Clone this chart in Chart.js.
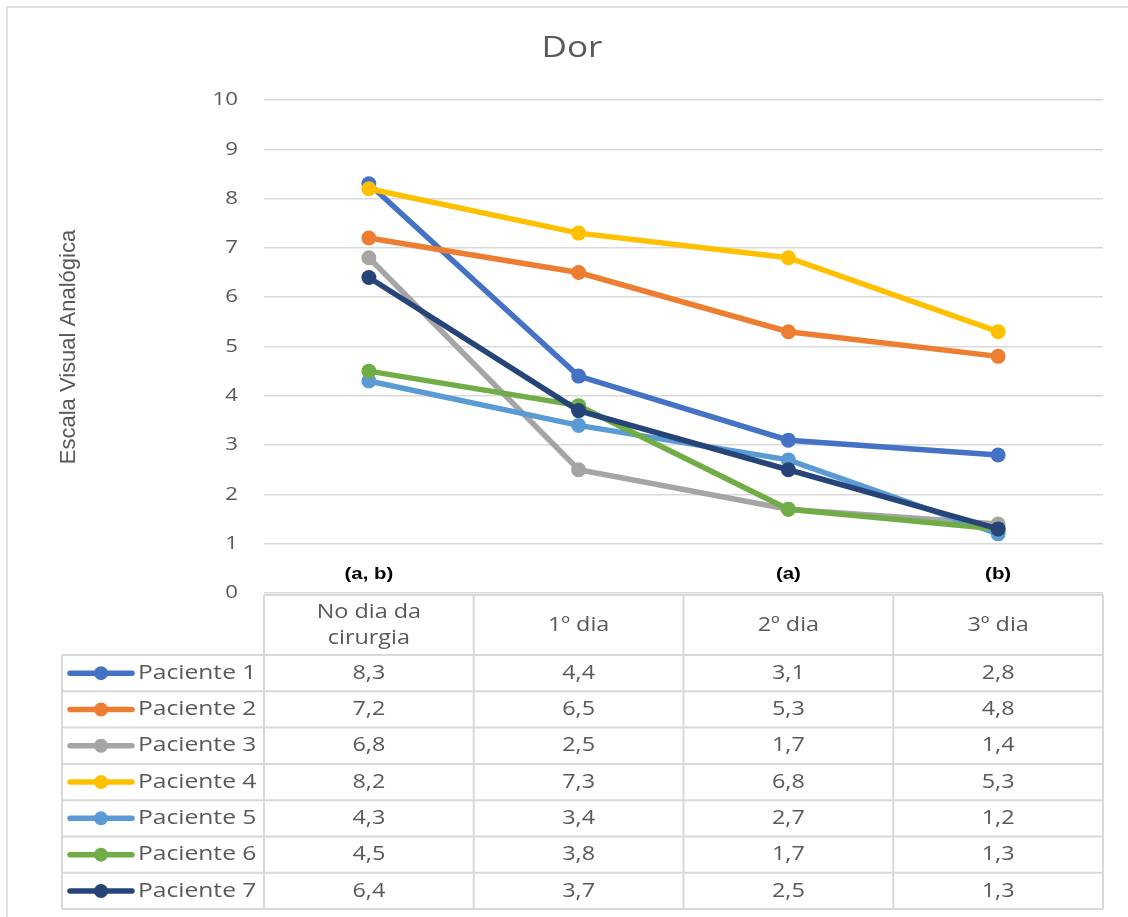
<!DOCTYPE html>
<html>
<head>
<meta charset="utf-8">
<script src="https://cdn.jsdelivr.net/npm/chart.js@4.4.0/dist/chart.umd.min.js"></script>
<style>
  html, body { margin: 0; padding: 0; background: #ffffff; }
  canvas { display: block; }
</style>
</head>
<body>
<canvas id="painChart" width="1128" height="917"></canvas>
<script>
// Days after surgery (x categories); a nested array is a two-line label
const categories = [['No dia da', 'cirurgia'], '1º dia', '2º dia', '3º dia'];

// Visual analogue pain score per patient
const seriesNames = ['Paciente 1', 'Paciente 2', 'Paciente 3', 'Paciente 4', 'Paciente 5', 'Paciente 6', 'Paciente 7'];
const paciente1 = [8.3, 4.4, 3.1, 2.8];
const paciente2 = [7.2, 6.5, 5.3, 4.8];
const paciente3 = [6.8, 2.5, 1.7, 1.4];
const paciente4 = [8.2, 7.3, 6.8, 5.3];
const paciente5 = [4.3, 3.4, 2.7, 1.2];
const paciente6 = [4.5, 3.8, 1.7, 1.3];
const paciente7 = [6.4, 3.7, 2.5, 1.3];
const seriesValues = [paciente1, paciente2, paciente3, paciente4, paciente5, paciente6, paciente7];

// Significance marks written above each day column
const significance = ['(a, b)', '', '(a)', '(b)'];

// Y axis range
const yMin = 0;
const yMax = 10;
const yStep = 1;

const chartTitle = 'Dor';
const yTitle = 'Escala Visual Analógica';

const colors = ['#4472C4', '#ED7D31', '#A5A5A5', '#FFC000', '#5B9BD5', '#70AD47', '#264478'];
const textGray = '#595959';
const lineGray = '#d9d9d9';
const bodyFont = '"Open Sans", "Noto Sans", sans-serif';
const widen = 1.17; // horizontal text stretch

const fmt = v => v.toFixed(1).replace('.', ',');

function wideText(ctx, text, x, y, align, sx) {
  ctx.save();
  ctx.translate(x, y);
  ctx.scale(sx, 1);
  ctx.textAlign = align;
  ctx.fillText(text, 0, 0);
  ctx.restore();
}

// Title, axis labels, significance marks and the data table under the plot
const decorations = {
  id: 'decorations',
  afterDraw(chart) {
    const { ctx, chartArea: ca, scales: { x, y } } = chart;
    ctx.save();

    // outer frame
    ctx.strokeStyle = lineGray;
    ctx.lineWidth = 1.5;
    ctx.strokeRect(7, 7, 1140, 940);

    ctx.textBaseline = 'middle';

    // chart title
    ctx.fillStyle = textGray;
    ctx.font = '30px ' + bodyFont;
    wideText(ctx, chartTitle, 572, 48, 'center', widen);

    // y tick labels
    ctx.font = '18.5px ' + bodyFont;
    y.ticks.forEach(t => {
      wideText(ctx, String(t.value), ca.left - 26, y.getPixelForValue(t.value), 'right', 1.2);
    });

    // y axis title
    ctx.save();
    ctx.translate(69, 347);
    ctx.rotate(-Math.PI / 2);
    ctx.font = '22px "Liberation Sans Narrow", "Liberation Sans", sans-serif';
    ctx.textAlign = 'center';
    ctx.fillText(yTitle, 0, 0);
    ctx.restore();

    const colW = ca.width / categories.length;
    const centers = categories.map((_, i) => x.getPixelForValue(i));

    // significance marks
    ctx.fillStyle = '#000000';
    ctx.font = 'bold 17px "Liberation Sans", Arial, sans-serif';
    significance.forEach((s, i) => {
      if (s) wideText(ctx, s, centers[i], ca.bottom - 19, 'center', 1.2);
    });

    // data table
    const top = ca.bottom + 2;
    const headerH = 60;
    const rowH = 36.3;
    const legendLeft = 62;
    const bottom = top + headerH + rowH * seriesNames.length;

    ctx.strokeStyle = lineGray;
    ctx.lineWidth = 2;
    ctx.beginPath();
    ctx.moveTo(ca.left, top); ctx.lineTo(ca.right, top);
    for (let r = 0; r <= seriesNames.length; r++) {
      const yy = top + headerH + r * rowH;
      ctx.moveTo(legendLeft, yy); ctx.lineTo(ca.right, yy);
    }
    for (let c = 0; c <= categories.length; c++) {
      const xx = ca.left + c * colW;
      ctx.moveTo(xx, top); ctx.lineTo(xx, bottom);
    }
    ctx.moveTo(legendLeft, top + headerH); ctx.lineTo(legendLeft, bottom);
    ctx.stroke();

    // header labels
    ctx.fillStyle = textGray;
    ctx.font = '20px ' + bodyFont;
    categories.forEach((cat, i) => {
      const lines = Array.isArray(cat) ? cat : [cat];
      const lh = 26;
      const y0 = top + headerH / 2 - (lines.length - 1) * lh / 2;
      lines.forEach((ln, k) => wideText(ctx, ln, centers[i], y0 + k * lh, 'center', widen));
    });

    // rows: legend key + values
    seriesNames.forEach((name, r) => {
      const cy = top + headerH + r * rowH + rowH / 2;
      ctx.strokeStyle = colors[r];
      ctx.lineWidth = 5.5;
      ctx.lineCap = 'round';
      ctx.beginPath();
      ctx.moveTo(legendLeft + 8, cy); ctx.lineTo(legendLeft + 70, cy);
      ctx.stroke();
      ctx.fillStyle = colors[r];
      ctx.beginPath();
      ctx.arc(legendLeft + 39, cy, 7, 0, Math.PI * 2);
      ctx.fill();

      ctx.fillStyle = textGray;
      wideText(ctx, name, legendLeft + 76, cy, 'left', 1.23);
      seriesValues[r].forEach((v, i) => wideText(ctx, fmt(v), centers[i], cy, 'center', widen));
    });

    ctx.restore();
  }
};

new Chart(document.getElementById('painChart'), {
  type: 'line',
  data: {
    labels: categories,
    datasets: seriesNames.map((name, i) => ({
      label: name,
      data: seriesValues[i],
      borderColor: colors[i],
      backgroundColor: colors[i],
      pointBackgroundColor: colors[i],
      pointBorderColor: colors[i],
      borderWidth: 5.5,
      pointRadius: 7.5,
      pointBorderWidth: 0,
      tension: 0,
      fill: false,
      order: seriesNames.length - i
    }))
  },
  options: {
    responsive: false,
    animation: false,
    devicePixelRatio: 1,
    layout: { padding: { left: 0, top: 100, right: 25, bottom: 324 } },
    plugins: {
      legend: { display: false },
      title: { display: false },
      tooltip: { enabled: false }
    },
    scales: {
      x: {
        type: 'category',
        offset: true,
        display: false
      },
      y: {
        min: yMin,
        max: yMax,
        ticks: { stepSize: yStep, display: false },
        grid: { color: lineGray, lineWidth: 1.5, drawTicks: false },
        border: { display: false },
        afterFit(scale) { scale.width = 264; }
      }
    }
  },
  plugins: [decorations]
});
</script>
</body>
</html>
